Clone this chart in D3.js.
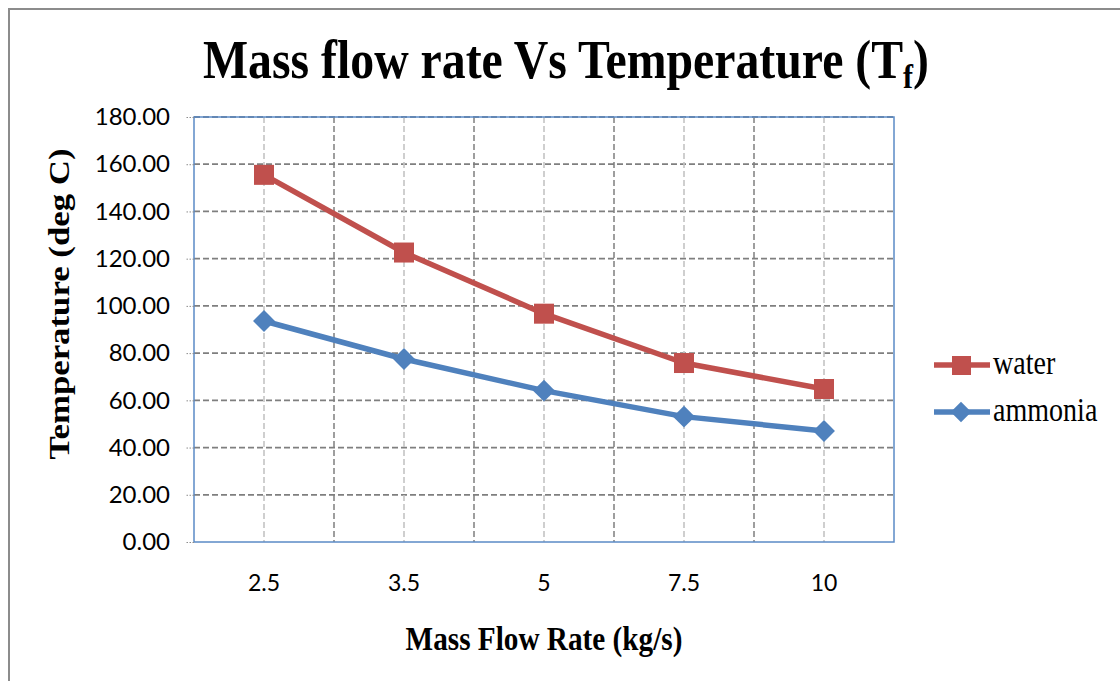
<!DOCTYPE html>
<html><head><meta charset="utf-8">
<script src="https://cdn.jsdelivr.net/npm/d3@7"></script>
<style>body{margin:0;background:#fff}svg{display:block}</style>
</head><body>
<script>
const categories = ["2.5","3.5","5","7.5","10"];
const water = [155.5, 122.6, 96.7, 75.8, 64.8];
const ammonia = [93.6, 77.5, 64.1, 53.1, 47.0];
const yTicks = [0,20,40,60,80,100,120,140,160,180];
const seriesNames = ["water","ammonia"];
const seriesColors = ["#C0504D","#4F81BD"];

const W=1120,H=681;
const serif="'Liberation Serif','Times New Roman',serif";
const sans="Lato, 'Open Sans', sans-serif";
const svg=d3.select("body").append("svg").attr("width",W).attr("height",H);
svg.append("rect").attr("width",W).attr("height",H).attr("fill","#fff");
// outer chart border
svg.append("rect").attr("x",9).attr("y",9).attr("width",1200).attr("height",800)
  .attr("fill","none").attr("stroke","#8c8c8c").attr("stroke-width",2);

const L=194,R=894,T=117,B=542;
const x=d3.scaleBand().domain(categories).range([L,R]);
const y=d3.scaleLinear().domain([0,180]).range([B,T]);

// horizontal grid
svg.append("g").selectAll("line").data(yTicks.slice(1)).join("line")
  .attr("x1",L).attr("x2",R).attr("y1",d=>y(d)).attr("y2",d=>y(d))
  .attr("stroke","#7f7f7f").attr("stroke-width",1.8).attr("stroke-dasharray","6,3");
// vertical grid at centers (light)
svg.append("g").selectAll("line").data(categories).join("line")
  .attr("x1",d=>x(d)+x.bandwidth()/2).attr("x2",d=>x(d)+x.bandwidth()/2)
  .attr("y1",T).attr("y2",B)
  .attr("stroke","#c4c4c4").attr("stroke-width",1.6).attr("stroke-dasharray","6,3");
// vertical grid at boundaries (dark)
svg.append("g").selectAll("line").data(categories.slice(1)).join("line")
  .attr("x1",d=>x(d)).attr("x2",d=>x(d))
  .attr("y1",T).attr("y2",B)
  .attr("stroke","#7f7f7f").attr("stroke-width",1.5).attr("stroke-dasharray","6,3");

// plot border
svg.append("rect").attr("x",L).attr("y",T).attr("width",R-L).attr("height",B-T)
  .attr("fill","none").attr("stroke","#5b8bc6").attr("stroke-width",1.5);

// y axis
const yAxis=d3.axisLeft(y).tickValues(yTicks).tickFormat(d3.format(".2f")).tickSize(8).tickPadding(16);
const gy=svg.append("g").attr("transform",`translate(${L},0)`).call(yAxis);
gy.select(".domain").remove();
gy.selectAll(".tick line").attr("stroke","#8c8c8c").attr("stroke-dasharray","1.5,1.5");
gy.selectAll(".tick text").attr("font-family",sans).attr("font-size",24).attr("fill","#000");

// x axis
const xAxis=d3.axisBottom(x).tickSize(0).tickPadding(33);
const gx=svg.append("g").attr("transform",`translate(0,${B})`).call(xAxis);
gx.select(".domain").remove();
gx.selectAll(".tick text").attr("font-family",sans).attr("font-size",23).attr("fill","#000");

// lines and markers
const line=d3.line().x((d,i)=>x(categories[i])+x.bandwidth()/2).y(d=>y(d));
[water,ammonia].forEach((vals,si)=>{
  svg.append("path").datum(vals).attr("d",line).attr("fill","none")
    .attr("stroke",seriesColors[si]).attr("stroke-width",5.5).attr("stroke-linejoin","round");
});
svg.append("g").selectAll("path").data(ammonia).join("path")
  .attr("d",d3.symbol(d3.symbolSquare,240)())
  .attr("transform",(d,i)=>`translate(${x(categories[i])+x.bandwidth()/2},${y(d)}) rotate(45)`)
  .attr("fill",seriesColors[1]);
svg.append("g").selectAll("rect").data(water).join("rect")
  .attr("x",(d,i)=>x(categories[i])+x.bandwidth()/2-10).attr("y",d=>y(d)-10)
  .attr("width",20).attr("height",20).attr("fill",seriesColors[0]);

// title
const title=svg.append("text").attr("transform","translate(566,78) scale(0.885,1)").attr("text-anchor","middle")
  .attr("font-family",serif).attr("font-weight","bold").attr("font-size",54);
title.append("tspan").text("Mass flow rate Vs Temperature (T");
title.append("tspan").attr("font-size",34).attr("dy",10).text("f");
title.append("tspan").attr("dy",-10).text(")");

// axis titles
svg.append("text").attr("transform",`translate(69,304) rotate(-90) scale(1.2,1)`).attr("text-anchor","middle")
  .attr("font-family",serif).attr("font-weight","bold").attr("font-size",29)
  .text("Temperature (deg C)");
svg.append("text").attr("transform","translate(544,650) scale(0.86,1)").attr("text-anchor","middle")
  .attr("font-family",serif).attr("font-weight","bold").attr("font-size",34)
  .text("Mass Flow Rate (kg/s)");

// legend
const leg=svg.append("g");
seriesNames.forEach((n,i)=>{
  const ly=365+i*47;
  leg.append("line").attr("x1",934).attr("x2",990).attr("y1",ly).attr("y2",ly)
    .attr("stroke",seriesColors[i]).attr("stroke-width",5.5);
  if(i===0){
    leg.append("rect").attr("x",952).attr("y",ly-9).attr("width",19).attr("height",19).attr("fill",seriesColors[i]);
  } else {
    leg.append("path").attr("d",d3.symbol(d3.symbolSquare,210)()).attr("transform",`translate(961,${ly}) rotate(45)`).attr("fill",seriesColors[i]);
  }
  leg.append("text").attr("transform",`translate(993,${ly+9}) scale(0.85,1)`).attr("font-family",serif)
    .attr("font-size",33).text(n);
});
</script>
</body></html>
